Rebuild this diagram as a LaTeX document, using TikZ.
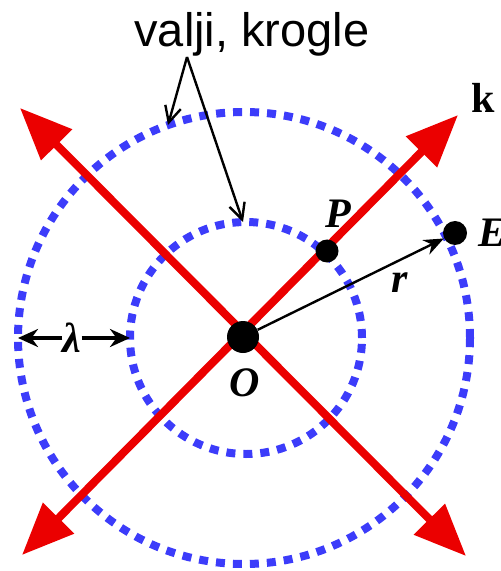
\documentclass[tikz,border=0pt]{standalone}
\usepackage{fontspec}
\setmainfont{Liberation Sans}
\newfontfamily\timesfont{Liberation Serif}
\usetikzlibrary{arrows.meta, positioning}
\definecolor{wavered}{RGB}{235,0,0}
\definecolor{waveblue}{RGB}{60,60,250}

\begin{document}
\begin{tikzpicture}[x=0.5pt, y=-0.5pt, >=Stealth,
        front/.style={waveblue, line width=4pt, dash pattern=on 4.5pt off 4pt},
        ray/.style={wavered, line width=4pt, {Triangle[length=26pt, width=21pt]}-{Triangle[length=26pt, width=21pt]}},
        dot/.style={circle, fill=black, inner sep=0pt, minimum size=#1},
        lbl/.style={font=\timesfont\bfseries\itshape\fontsize{21}{21}\selectfont, inner sep=1pt},
        pointer/.style={-{Straight Barb[length=8pt, width=8pt]}, line width=1.2pt},
        gap/.style={-{Stealth[length=10pt, width=9pt]}, line width=2pt}
        ]
        \useasboundingbox (0,0) rectangle (501,571);
        % Wave fronts
        \draw[front] (244,338) circle [radius=113pt];
        \draw[front] (246,338) circle [radius=58pt];

        % Rays
        \coordinate (ul) at (20,108);
        \coordinate (lr) at (466,556);
        \coordinate (ur) at (458,115);
        \coordinate (ll) at (22,555);
        \draw[ray] (ll) -- (ur);
        \draw[ray] (ul) -- (lr);

        % Points
        \node[dot=16pt] (O) at (243,337) {};
        \node[dot=11.5pt] (P) at (327,251) {};
        \node[dot=12pt] (E) at (455,233) {};
        \node[lbl] (Olab) at (245,383) {O};
        \node[lbl] (Plab) at (338,214) {P};
        \node[lbl, anchor=west] (Elab) at (476,233) {E};
        \node[lbl] (rlab) at (400,283) {r};
        \node[font=\timesfont\bfseries\fontsize{21}{21}\selectfont] (klab) at (483,98) {k};

        \draw[-{Stealth[length=10pt, width=8pt]}, line width=1.2pt] (O) -- (E);

        % Wavelength
        \node[lbl, inner sep=0pt] (lam) at (72,338) {λ};
        \coordinate (lamL) at (18,338);
        \coordinate (lamR) at (130,338);
        \draw[gap] (lam) -- (lamL);
        \draw[gap] (lam) -- (lamR);

        % Caption
        \node[anchor=base, font=\fontsize{23.5}{24}\selectfont] (title) at (252,47) {valji, krogle};
        \coordinate (fork) at (187,57);
        \coordinate (outerHit) at (168,125);
        \coordinate (innerHit) at (243,222);
        \draw[pointer] (fork) -- (outerHit);
        \draw[pointer] (fork) -- (innerHit);
\end{tikzpicture}
\end{document}
